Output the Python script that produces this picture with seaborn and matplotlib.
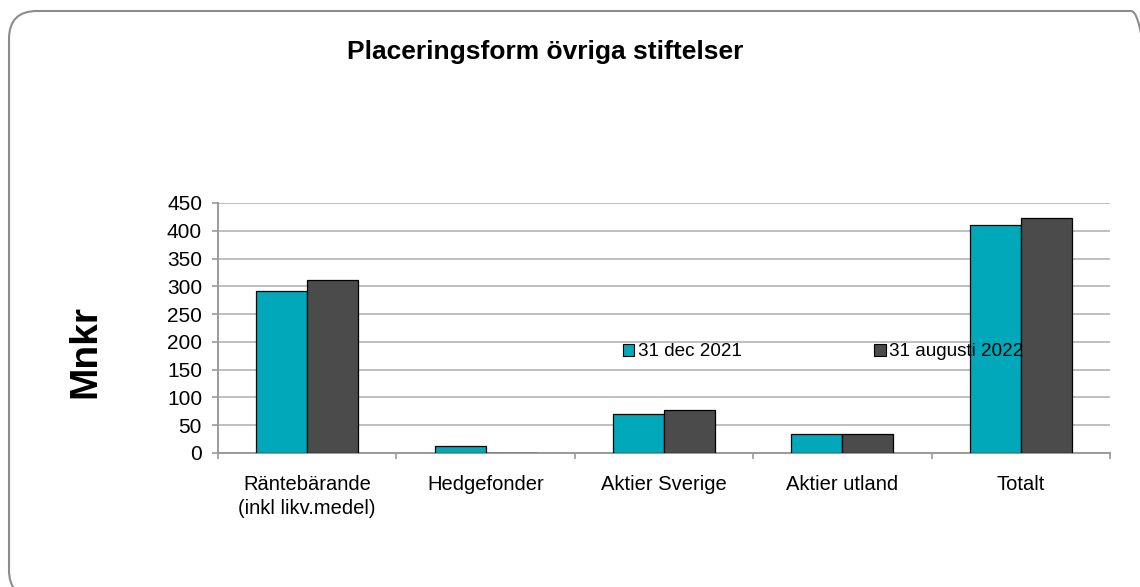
import numpy as np
import pandas as pd
import matplotlib
matplotlib.use('Agg')
import matplotlib.pyplot as plt
from matplotlib.patches import FancyBboxPatch, Patch
from matplotlib.transforms import IdentityTransform
import seaborn as sns

# Datos (Mnkr)
kategorier = ['Räntebärande\n(inkl likv.medel)', 'Hedgefonder', 'Aktier Sverige',
              'Aktier utland', 'Totalt']
serier = ['31 dec 2021', '31 augusti 2022']
varden_2021 = [292, 13, 70, 34, 410]
varden_2022 = [311, 0, 77, 34, 423]
y_ticks = [0, 50, 100, 150, 200, 250, 300, 350, 400, 450]

farger = ['#00A8B9', '#4B4B4B']

sns.set_theme(style='white')
plt.rcParams['font.family'] = ['Liberation Sans', 'DejaVu Sans']
plt.rcParams['text.color'] = 'black'
plt.rcParams['xtick.labelcolor'] = 'black'
plt.rcParams['ytick.labelcolor'] = 'black'

df = pd.DataFrame({
    'kategori': kategorier * 2,
    'serie': [serier[0]] * len(kategorier) + [serier[1]] * len(kategorier),
    'varde': varden_2021 + varden_2022,
})

fig = plt.figure(figsize=(11.4, 5.87), dpi=100)
ax = fig.add_axes([218 / 1140, 1 - 453 / 587, 892 / 1140, 250 / 587])

sns.barplot(data=df, x='kategori', y='varde', hue='serie', order=kategorier,
            hue_order=serier, palette=farger, saturation=1, width=0.572, gap=0,
            edgecolor='black', linewidth=0.9, ax=ax, legend=False, zorder=3)

# Ejes
ax.set_xlim(-0.5, len(kategorier) - 0.5)
ax.set_ylim(0, 450)
ax.set_yticks(y_ticks)
ax.set_xlabel('')
ax.set_ylabel('')
ax.yaxis.grid(True, color='#BFBFBF', linewidth=1.4, zorder=0)
ax.xaxis.grid(False)
for s in ['top', 'right']:
    ax.spines[s].set_visible(False)
for s in ['left', 'bottom']:
    ax.spines[s].set_color('#9A9A9A')
    ax.spines[s].set_linewidth(1.4)

ax.tick_params(axis='y', which='major', length=4.5, width=1.2, color='#9A9A9A',
               labelsize=15, pad=7, left=True)
ax.set_xticks(np.arange(len(kategorier) + 1) - 0.5, minor=True)
ax.tick_params(axis='x', which='minor', length=4.5, width=1.2, color='#9A9A9A',
               bottom=True)
ax.tick_params(axis='x', which='major', length=0, labelsize=14.5, pad=16)
for lbl in ax.get_xticklabels():
    lbl.set_linespacing(1.3)

# Leyenda
handles = [Patch(facecolor=c, edgecolor='black', linewidth=0.8) for c in farger]
fig.legend(handles, serier, loc='center left', bbox_to_anchor=(623 / 1140, 1 - 352 / 587),
           ncol=2, frameon=False, fontsize=13.6, handlelength=0.6, handleheight=0.6,
           handletextpad=0.2, columnspacing=7.0, borderpad=0, borderaxespad=0)

# Textos
fig.text(545 / 1140, 1 - 52 / 587, 'Placeringsform övriga stiftelser',
         ha='center', va='center', fontsize=19, fontweight='bold')
fig.text(85 / 1140, 1 - 352 / 587, 'Mnkr', rotation=90, ha='center', va='center',
         fontsize=28, fontweight='bold')

# Marco redondeado
marco = FancyBboxPatch((9, -11), 1150, 587, boxstyle='round,pad=0,rounding_size=28',
                       transform=IdentityTransform(), facecolor='none',
                       edgecolor='#8C8C8C', linewidth=1.5)
fig.add_artist(marco)

fig.savefig('out.png', dpi=100)
